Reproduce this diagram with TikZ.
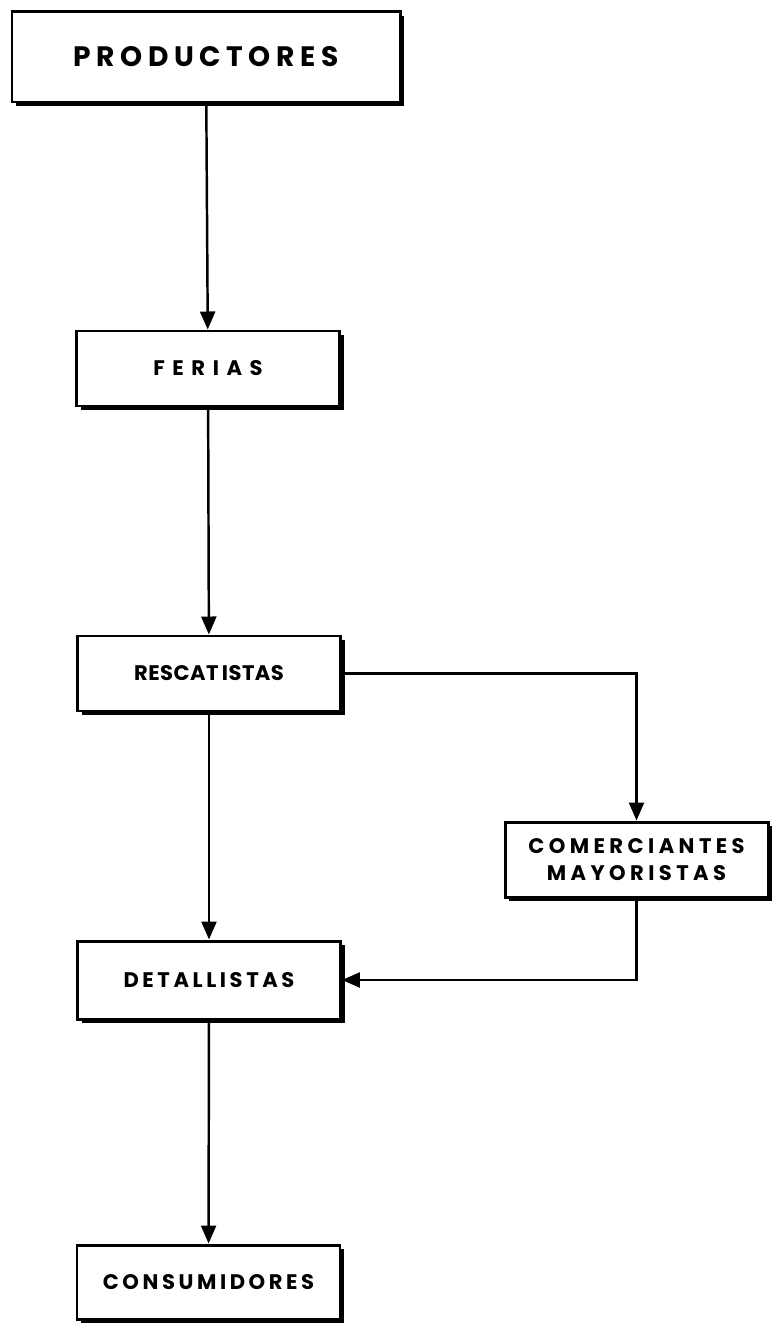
\documentclass[tikz,border=0pt]{standalone}
\usepackage{fontspec}
\setsansfont{Poppins}
\usepackage{tikz}
\usetikzlibrary{arrows.meta, positioning, shadows}
\newcommand{\spaced}[1]{\addfontfeature{LetterSpace=#1}}
\tikzstyle{box}=[draw, line width=1.7pt, fill=white, minimum width=5.26cm, minimum height=1.5cm, align=center,
  font=\sffamily\bfseries\fontsize{12}{15}\selectfont, drop shadow={shadow xshift=0.08cm, shadow yshift=-0.08cm, opacity=1, fill=black}]
\tikzstyle{arr} = [line width=1.4pt, -{Triangle[width=0.3cm,length=0.36cm]}]

\begin{document}
\begin{tikzpicture}
    \useasboundingbox (0,0) rectangle (15.42,-26.48);
    \node [box, minimum width=7.76cm, minimum height=1.8cm, font=\sffamily\bfseries\fontsize{16}{19}\selectfont\spaced{20}](P) at (4.12,-1.14) {PRODUCTORES};
    \node [box, font=\sffamily\bfseries\fontsize{12}{15}\selectfont\spaced{36}](F) at (4.16,-7.37) {FERIAS};
    \node [box, font=\sffamily\bfseries\fontsize{12}{15}\selectfont\spaced{2}](R) at (4.18,-13.47) {RESCAT\,ISTAS};
    \node [box, font=\sffamily\bfseries\fontsize{12}{15}\selectfont\spaced{21}](C) at (12.73,-17.19) {COMERCIANTES\\MAYORISTAS};
    \node [box, minimum height=1.56cm, font=\sffamily\bfseries\fontsize{12}{15}\selectfont\spaced{17}](D) at (4.18,-19.6) {DETALLISTAS};
    \node [box, minimum height=1.48cm, font=\sffamily\bfseries\fontsize{12}{15}\selectfont\spaced{17}](K) at (4.17,-25.64) {CONSUMIDORES};

    \draw[arr] (P) -- (F);
    \draw[arr] (F) -- (R);
    \draw[arr] (R) -- (D);
    \draw[arr] (D) -- (K);
    \draw[arr] (R.east) -| (C.north);
    \draw[arr] (C.south) |- (D.east);
\end{tikzpicture}
\end{document}
